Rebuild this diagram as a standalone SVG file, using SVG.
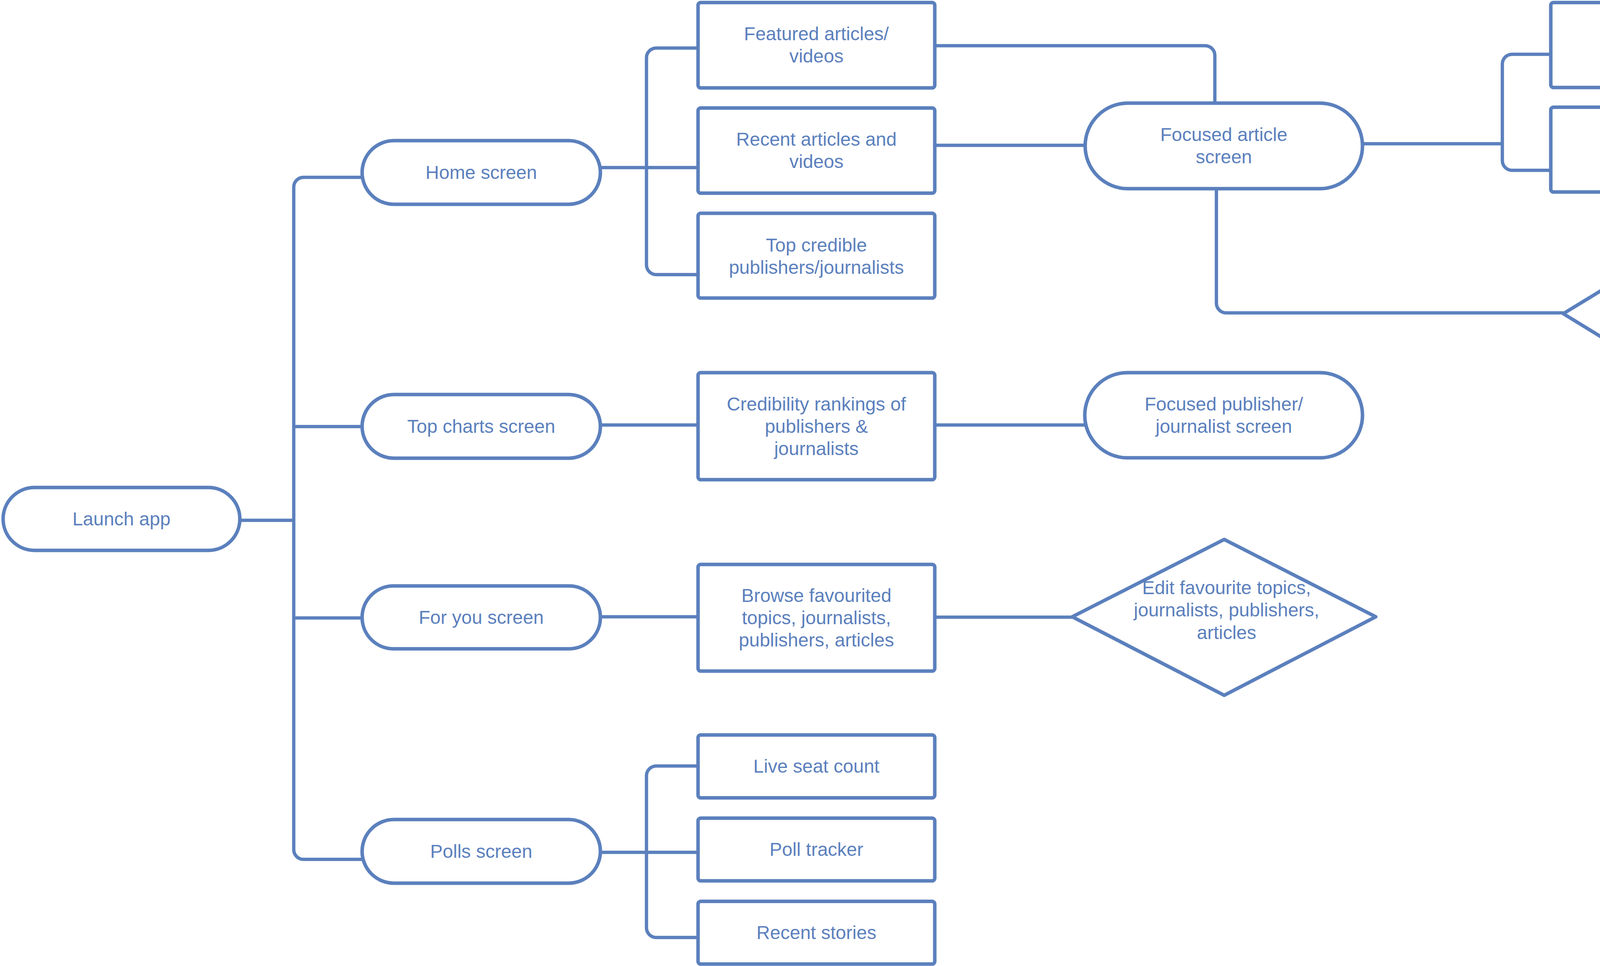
<svg xmlns="http://www.w3.org/2000/svg" width="4687" height="2473" viewBox="0 0 4687 2473">
<style>
  .shape { fill: #ffffff; stroke: #5b80bd; stroke-width: 9; stroke-linejoin: round; }
  .conn { fill: none; stroke: #5b80bd; stroke-width: 8.5; stroke-linejoin: round; }
  .lbl { font-family: "Liberation Sans", Arial, sans-serif; font-size: 48px; fill: #5b80bd; text-anchor: middle; }
</style>
<rect width="4687" height="2473" fill="#ffffff"/>
<g id="connectors">
  <path class="conn" d="M614 1332 H752"/>
  <path class="conn" d="M927 454 H777 A25 25 0 0 0 752 479 V2175 A25 25 0 0 0 777 2200 H927"/>
  <path class="conn" d="M752 1092 H927"/>
  <path class="conn" d="M752 1582 H927"/>
  <path class="conn" d="M1537 429 H1787"/>
  <path class="conn" d="M1787 123 H1680 A25 25 0 0 0 1655 148 V678 A25 25 0 0 0 1680 703 H1787"/>
  <path class="conn" d="M1537 1088 H1787"/>
  <path class="conn" d="M1537 1579 H1787"/>
  <path class="conn" d="M1537 2182 H1787"/>
  <path class="conn" d="M1787 1961 H1680 A25 25 0 0 0 1655 1986 V2375 A25 25 0 0 0 1680 2400 H1787"/>
  <path class="conn" d="M2393 117 H3085 A25 25 0 0 1 3110 142 V264"/>
  <path class="conn" d="M2393 372 H2778"/>
  <path class="conn" d="M3488 368 H3846"/>
  <path class="conn" d="M3970 139 H3871 A25 25 0 0 0 3846 164 V411 A25 25 0 0 0 3871 436 H3970"/>
  <path class="conn" d="M3114 482 V776 A25 25 0 0 0 3139 801 H4002"/>
  <path class="conn" d="M2393 1088 H2777"/>
  <path class="conn" d="M2393 1580 H2745"/>
</g>
<g id="launch-app">
  <rect class="shape" x="8" y="1248" width="606" height="161" rx="80.5"/>
  <text class="lbl" x="311" y="1345">Launch app</text>
</g>
<g id="home-screen">
  <rect class="shape" x="927" y="360" width="610" height="163" rx="81.5"/>
  <text class="lbl" x="1232" y="458">Home screen</text>
</g>
<g id="top-charts-screen">
  <rect class="shape" x="927" y="1010" width="610" height="163" rx="81.5"/>
  <text class="lbl" x="1232" y="1108">Top charts screen</text>
</g>
<g id="for-you-screen">
  <rect class="shape" x="927" y="1500" width="610" height="161" rx="80.5"/>
  <text class="lbl" x="1232" y="1597">For you screen</text>
</g>
<g id="polls-screen">
  <rect class="shape" x="927" y="2098" width="610" height="163" rx="81.5"/>
  <text class="lbl" x="1232" y="2196">Polls screen</text>
</g>
<g id="featured-articles">
  <rect class="shape" x="1787" y="6.5" width="606" height="218.5" rx="7"/>
  <text class="lbl" x="2090" y="103">Featured articles/</text>
  <text class="lbl" x="2090" y="160">videos</text>
</g>
<g id="recent-articles">
  <rect class="shape" x="1787" y="276.5" width="606" height="218" rx="7"/>
  <text class="lbl" x="2090" y="373">Recent articles and</text>
  <text class="lbl" x="2090" y="430">videos</text>
</g>
<g id="top-credible">
  <rect class="shape" x="1787" y="546" width="606" height="217" rx="7"/>
  <text class="lbl" x="2090" y="644">Top credible</text>
  <text class="lbl" x="2090" y="701">publishers/journalists</text>
</g>
<g id="credibility-rankings">
  <rect class="shape" x="1787" y="954" width="606" height="274" rx="7"/>
  <text class="lbl" x="2090" y="1051">Credibility rankings of</text>
  <text class="lbl" x="2090" y="1108">publishers &amp;</text>
  <text class="lbl" x="2090" y="1165">journalists</text>
</g>
<g id="browse-favourited">
  <rect class="shape" x="1787" y="1445" width="606" height="273" rx="7"/>
  <text class="lbl" x="2090" y="1541">Browse favourited</text>
  <text class="lbl" x="2090" y="1598">topics, journalists,</text>
  <text class="lbl" x="2090" y="1655">publishers, articles</text>
</g>
<g id="live-seat-count">
  <rect class="shape" x="1787" y="1881.5" width="606" height="161" rx="7"/>
  <text class="lbl" x="2090" y="1978">Live seat count</text>
</g>
<g id="poll-tracker">
  <rect class="shape" x="1787" y="2094.5" width="606" height="160.5" rx="7"/>
  <text class="lbl" x="2090" y="2191">Poll tracker</text>
</g>
<g id="recent-stories">
  <rect class="shape" x="1787" y="2307.5" width="606" height="160.5" rx="7"/>
  <text class="lbl" x="2090" y="2404">Recent stories</text>
</g>
<g id="focused-article">
  <rect class="shape" x="2778" y="264" width="710" height="219" rx="109.5"/>
  <text class="lbl" x="3133" y="361">Focused article</text>
  <text class="lbl" x="3133" y="418">screen</text>
</g>
<g id="focused-publisher">
  <rect class="shape" x="2777" y="954" width="711" height="218" rx="109"/>
  <text class="lbl" x="3133" y="1051">Focused publisher/</text>
  <text class="lbl" x="3133" y="1108">journalist screen</text>
</g>
<g id="edit-favourites">
  <polygon class="shape" points="2745,1579 3134,1381 3522,1579 3134,1780"/>
  <text class="lbl" x="3140" y="1521">Edit favourite topics,</text>
  <text class="lbl" x="3140" y="1578">journalists, publishers,</text>
  <text class="lbl" x="3140" y="1636">articles</text>
</g>
<g id="credibility-rating-breakdown">
  <rect class="shape" x="3970" y="6.5" width="710" height="217.5" rx="7"/>
  <text class="lbl" x="4325" y="102">Credibility rating</text>
  <text class="lbl" x="4325" y="159">breakdown</text>
</g>
<g id="bias-alerts">
  <rect class="shape" x="3970" y="274.5" width="710" height="217" rx="7"/>
  <text class="lbl" x="4325" y="371">Bias/misinformation</text>
  <text class="lbl" x="4325" y="428">alerts</text>
</g>
<g id="share-save-article">
  <polygon class="shape" points="4002,803 4328,604 4655,803 4328,1003"/>
  <text class="lbl" x="4324" y="820">Share/save article</text>
</g>
</svg>
